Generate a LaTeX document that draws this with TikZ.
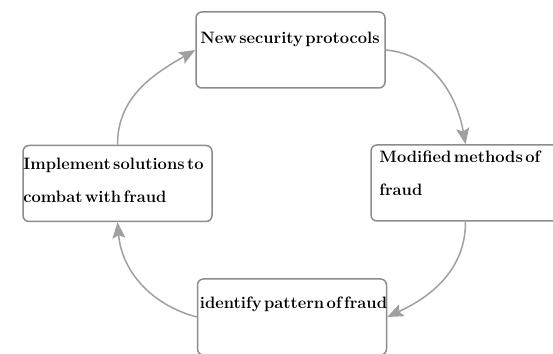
\documentclass[tikz,border=0pt]{standalone}
\usepackage{xcolor}
\usepackage{tikz}
\usetikzlibrary{arrows.meta,positioning}
\definecolor{boxgray}{RGB}{140,140,140}
\definecolor{arrowgray}{RGB}{160,160,160}
\newcommand{\tightwords}{\spaceskip 2.5pt plus 1pt\relax}
\tikzset{
  stepbox/.style={draw=boxgray, line width=1.5pt, rounded corners=6pt,
    minimum width=189pt, minimum height=76pt, inner sep=0pt},
  steptext/.style={anchor=north west, inner sep=0pt, align=left,
    font=\fontsize{16.5}{33}\selectfont\bfseries\tightwords},
  cyclearrow/.style={draw=arrowgray, line width=1.5pt,
    -{Stealth[length=16pt,width=13pt,inset=3pt]}}
}
\begin{document}
\begin{tikzpicture}[x=1pt,y=1pt]
            \useasboundingbox (0,0) rectangle (553,353);
            %绘制四个圆角矩形
            \node[stepbox] (proto) at (290.5,303) {};
            \node[stepbox] (modify) at (465.5,170) {};
            \node[stepbox] (identify) at (292,36) {};
            \node[stepbox] (implement) at (117.5,169.5) {};
            %绘制矩形中的文字
            \node[steptext] (protoText) at ([shift={(5,-21)}]proto.north west) {New security protocols};
            \node[steptext] (modifyText) at ([shift={(9,-7)}]modify.north west) {Modified methods of\\fraud};
            \node[steptext] (identifyText) at ([shift={(3,-18)}]identify.north west) {identify pattern of fraud};
            \node[steptext] (implementText) at ([shift={(1,-13)}]implement.north west) {Implement solutions to\\combat with fraud};
            %绘制循环箭头
            \draw[cyclearrow] (implement.north) to[out=90,in=210] (proto.west);
            \draw[cyclearrow] (proto.east) to[out=-5,in=100] (modify.north);
            \draw[cyclearrow] (modify.south) to[out=-90,in=25] (identify.east);
            \draw[cyclearrow] (identify.west) to[out=165,in=-85] (implement.south);
        \end{tikzpicture}
\end{document}
